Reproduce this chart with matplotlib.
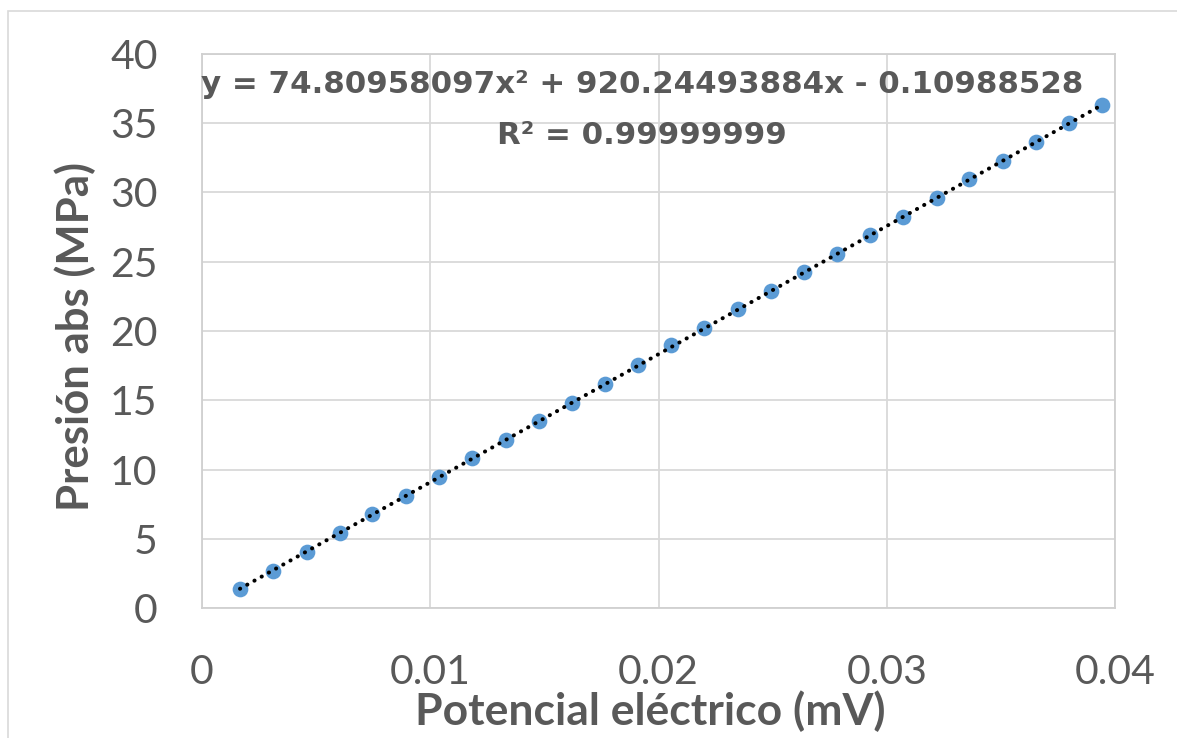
import matplotlib.pyplot as plt
import matplotlib.patches as patches
import numpy as np

# calibration data: transducer output vs absolute pressure
volt = [0.001665, 0.003124, 0.004587, 0.006046, 0.007461, 0.008938, 0.01037,
        0.01184, 0.01331, 0.01475, 0.01622, 0.01767, 0.01910, 0.02055,
        0.02201, 0.02347, 0.02492, 0.02637, 0.02783, 0.02927, 0.03073,
        0.03219, 0.03362, 0.03508, 0.03653, 0.03797, 0.03942]
pres = [1.38, 2.72, 4.07, 5.42, 6.79, 8.13, 9.46, 10.83, 12.15, 13.49,
        14.83, 16.18, 17.55, 18.97, 20.19, 21.56, 22.90, 24.25, 25.57,
        26.92, 28.24, 29.61, 30.93, 32.25, 33.60, 34.97, 36.29]

# quadratic fit coefficients (a*x^2 + b*x + c)
coef = [74.80958097, 920.24493884, -0.10988528]
r2 = 0.99999999

x_ticks = [0, 0.01, 0.02, 0.03, 0.04]
x_tick_labels = ['0', '0.01', '0.02', '0.03', '0.04']
y_ticks = [0, 5, 10, 15, 20, 25, 30, 35, 40]

grey = '#595959'
plt.rcParams['font.family'] = ['Lato', 'DejaVu Sans']

fig = plt.figure(figsize=(11.77, 7.38), dpi=100)
ax = fig.add_axes([202 / 1177, 0.1755, 913 / 1177, 0.752])

# chart area frame
fig.patches.append(patches.Rectangle((8 / 1177, -0.2), 1.2, (738 - 11) / 738 + 0.2,
                                     transform=fig.transFigure, fill=False,
                                     edgecolor='#d9d9d9', linewidth=1.2))

ax.plot(volt, pres, 'o', color='#5b9bd5', markersize=11.3, markeredgewidth=0, zorder=3)

xs = np.linspace(volt[0], volt[-1], 200)
ax.plot(xs, np.polyval(coef, xs), color='black', linewidth=2.9,
        linestyle=(0, (0.05, 2.0)), dash_capstyle='round', zorder=4)

ax.set_xlim(0, 0.04)
ax.set_ylim(0, 40)
ax.set_xticks(x_ticks)
ax.set_xticklabels(x_tick_labels)
ax.set_yticks(y_ticks)
ax.grid(True, color='#d9d9d9', linewidth=1.3)
ax.set_axisbelow(True)
for s in ax.spines.values():
    s.set_color('#d0d0d0')
    s.set_linewidth(1.3)
ax.tick_params(axis='both', length=0, colors=grey, labelsize=29.5)
ax.tick_params(axis='y', pad=32)
ax.tick_params(axis='x', pad=33)

ax.set_xlabel('Potencial eléctrico (mV)', fontsize=32, fontweight='bold', color=grey)
ax.xaxis.label.set_va('center')
ax.xaxis.set_label_coords((650 - 202) / 913, -0.186)
ax.set_ylabel('Presión abs (MPa)', fontsize=31.5, fontweight='bold', color=grey)
ax.yaxis.label.set_va('center')
ax.yaxis.set_label_coords((75 - 202) / 913, 0.49)

eq = 'y = %.8fx² + %.8fx - %.8f' % (coef[0], coef[1], -coef[2])
ax.text((642 - 202) / 913, 0.929, eq, transform=ax.transAxes, ha='center', va='baseline',
        fontsize=22.2, fontweight='bold', color=grey, family=['DejaVu Sans'])
ax.text((642 - 202) / 913, 0.837, 'R² = %.8f' % r2, transform=ax.transAxes, ha='center',
        va='baseline', fontsize=22.2, fontweight='bold', color=grey, family=['DejaVu Sans'])

fig.savefig('out.png', dpi=100)
